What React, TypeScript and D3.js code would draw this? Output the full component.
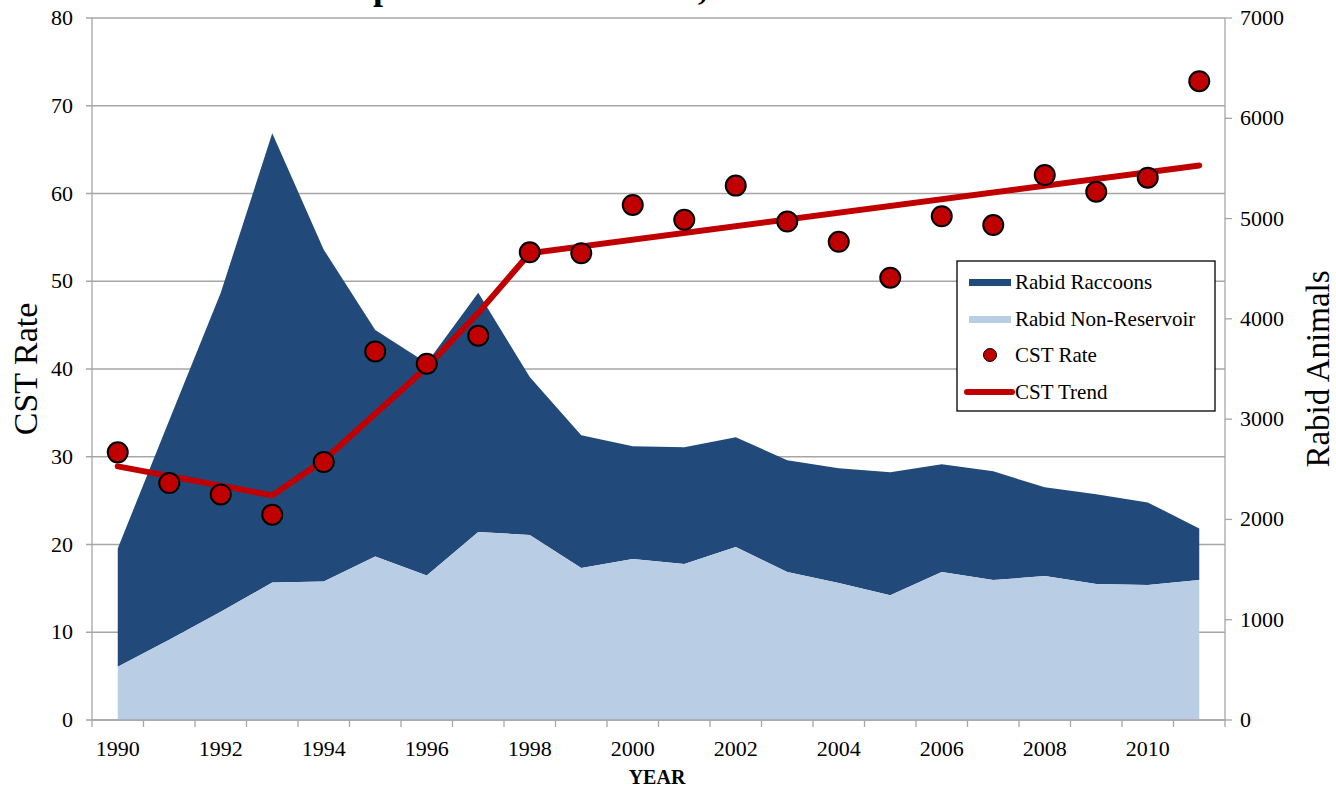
import React from 'react';
import * as d3 from 'd3';

const years = [1990, 1991, 1992, 1993, 1994, 1995, 1996, 1997, 1998, 1999, 2000, 2001, 2002, 2003, 2004, 2005, 2006, 2007, 2008, 2009, 2010, 2011];
const nonReservoir = [530, 800, 1080, 1370, 1380, 1630, 1440, 1875, 1845, 1515, 1605, 1555, 1725, 1475, 1365, 1245, 1475, 1395, 1435, 1355, 1345, 1395];
const raccoons = [1180, 2190, 3180, 4480, 3310, 2260, 2120, 2385, 1575, 1325, 1125, 1165, 1095, 1115, 1145, 1225, 1075, 1085, 885, 895, 825, 515];
const cstRate = [30.5, 27.0, 25.7, 23.4, 29.4, 42.0, 40.6, 43.8, 53.3, 53.2, 58.7, 57.0, 60.9, 56.8, 54.5, 50.4, 57.4, 56.4, 62.1, 60.2, 61.8, 72.8];
const trendYears = [1990, 1993, 1994, 1995, 1996, 1997, 1998, 2011];
const trendValues = [28.9, 25.6, 29.6, 34.9, 40.2, 46.4, 53.2, 63.2];
const leftTicks = [0, 10, 20, 30, 40, 50, 60, 70, 80];
const rightTicks = [0, 1000, 2000, 3000, 4000, 5000, 6000, 7000];
const yearLabels = [1990, 1992, 1994, 1996, 1998, 2000, 2002, 2004, 2006, 2008, 2010];

const W = 1336;
const H = 789;
const left = 92;
const right = 1225;
const top = 18;
const bottom = 720;

const font = '"Liberation Serif", "Times New Roman", serif';
const grid = '#a6a6a6';
const dark = '#214a7b';
const light = '#b9cde5';
const red = '#c00000';

export default function App() {
  const x = d3.scaleBand<number>().domain(years).range([left, right]).padding(0);
  const cx = (yr: number) => (x(yr) ?? 0) + x.bandwidth() / 2;
  const yL = d3.scaleLinear().domain([0, 80]).range([bottom, top]);
  const yR = d3.scaleLinear().domain([0, 7000]).range([bottom, top]);

  const rows = years.map((yr, i) => ({ year: yr, nonRes: nonReservoir[i], raccoons: raccoons[i] }));
  const stacked = d3.stack<any>().keys(['nonRes', 'raccoons'])(rows);
  const area = d3.area<any>()
    .x(d => cx(d.data.year))
    .y0(d => yR(d[0]))
    .y1(d => yR(d[1]));

  const trendLine = d3.line<number>()
    .x((_, i) => cx(trendYears[i]))
    .y(d => yL(d));

  const boundaries = d3.range(years.length + 1).map(i => left + i * x.bandwidth());

  return (
    <svg width={W} height={H} style={{ position: 'absolute', left: 0, top: 0, background: '#fff' }} fontFamily={font}>
      {/* title sits mostly above the frame, as in the source image */}
      <text x={347} y={-1} textAnchor="start" fontSize={36} fontWeight="bold">Upstate NY CST Rates, 1990 - 2011</text>

      {leftTicks.map(t => (
        <line key={'g' + t} x1={left - 6} x2={right} y1={yL(t)} y2={yL(t)} stroke={grid} strokeWidth={1.3} />
      ))}

      <path d={area(stacked[1]) ?? ''} fill={dark} />
      <path d={area(stacked[0]) ?? ''} fill={light} />

      <line x1={left} x2={left} y1={top} y2={bottom} stroke={grid} strokeWidth={1.3} />
      <line x1={right} x2={right} y1={top} y2={bottom} stroke={grid} strokeWidth={1.3} />
      <line x1={left} x2={right} y1={bottom} y2={bottom} stroke={grid} strokeWidth={1.3} />
      {rightTicks.map(t => (
        <line key={'rt' + t} x1={right} x2={right + 7} y1={yR(t)} y2={yR(t)} stroke={grid} strokeWidth={1.3} />
      ))}
      {boundaries.map((b, i) => (
        <line key={'xt' + i} x1={b} x2={b} y1={bottom} y2={bottom + 7} stroke={grid} strokeWidth={1.3} />
      ))}

      {leftTicks.map(t => (
        <text key={'lt' + t} x={73} y={yL(t) + 7} textAnchor="end" fontSize={22}>{t}</text>
      ))}
      {rightTicks.map(t => (
        <text key={'rl' + t} x={1240} y={yR(t) + 7} textAnchor="start" fontSize={22}>{t}</text>
      ))}
      {yearLabels.map(yr => (
        <text key={'yl' + yr} x={cx(yr)} y={756} textAnchor="middle" fontSize={22}>{yr}</text>
      ))}

      <text x={657} y={784} textAnchor="middle" fontSize={20} fontWeight="bold">YEAR</text>
      <text transform={`translate(37,${(top + bottom) / 2}) rotate(-90)`} textAnchor="middle" fontSize={34}>CST Rate</text>
      <text transform={`translate(1329,${(top + bottom) / 2}) rotate(-90)`} textAnchor="middle" fontSize={33}>Rabid Animals</text>

      <path d={trendLine(trendValues) ?? ''} fill="none" stroke={red} strokeWidth={6} strokeLinecap="round" strokeLinejoin="round" />
      {cstRate.map((v, i) => (
        <circle key={'p' + i} cx={cx(years[i])} cy={yL(v)} r={10} fill={red} stroke="#000" strokeWidth={2} />
      ))}

      <g>
        <rect x={957} y={261} width={258} height={150} fill="#fff" stroke="#000" strokeWidth={1.3} />
        <rect x={969} y={279} width={42} height={7} fill={dark} />
        <text x={1015} y={289} fontSize={21}>Rabid Raccoons</text>
        <rect x={969} y={316} width={42} height={7} fill={light} />
        <text x={1015} y={326} fontSize={21}>Rabid Non-Reservoir</text>
        <circle cx={990} cy={355} r={6.5} fill={red} stroke="#000" strokeWidth={1} />
        <text x={1015} y={362} fontSize={21}>CST Rate</text>
        <line x1={967} x2={1012} y1={392} y2={392} stroke={red} strokeWidth={6} strokeLinecap="round" />
        <text x={1015} y={399} fontSize={21}>CST Trend</text>
      </g>
    </svg>
  );
}
